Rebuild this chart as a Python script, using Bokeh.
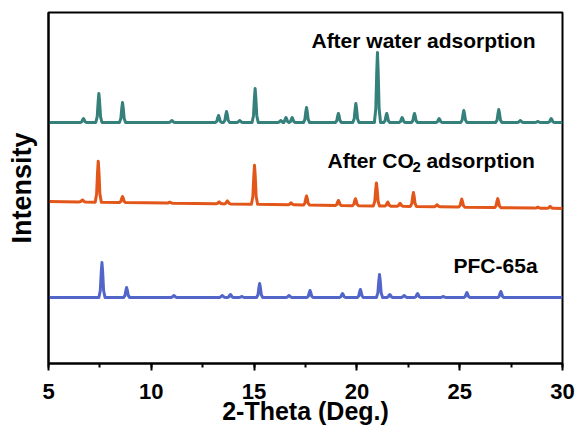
from bokeh.plotting import figure
from bokeh.models import Range1d, SingleIntervalTicker, FixedTicker, Label
from bokeh.embed import file_html
from bokeh.resources import INLINE

# ---- data (2-theta positions, peak heights, baselines) ----
x_start, x_end = 5, 30

water_pos = [6.7, 7.45, 8.6, 11.0, 13.27, 13.66, 14.3, 15.05, 16.3, 16.55, 16.85,
             17.55, 19.1, 19.95, 21.0, 21.45, 22.2, 22.8, 24.0, 25.2, 26.9, 27.95, 28.8, 29.45]
water_height = [4, 29, 20, 2, 7, 11, 2, 34, 2, 5, 5,
                15, 9, 19, 70, 9, 5, 9, 4, 12, 13, 2, 1, 4]
water_base = [241, 241]

co2_pos = [6.65, 7.42, 8.6, 10.9, 13.3, 13.7, 15.02, 16.8, 17.55, 19.1, 19.93,
           20.95, 21.5, 22.1, 22.75, 23.9, 25.1, 26.85, 28.8, 29.4]
co2_height = [2, 41, 6, 1, 2, 3, 39, 2, 9, 5, 7,
              23, 4, 3, 14, 2, 8, 9, 1, 2]
co2_base = [162, 155]

pfc_pos = [7.6, 8.8, 11.1, 13.45, 13.85, 14.4, 15.27, 16.7, 17.72, 19.3, 20.17,
           21.1, 21.6, 22.3, 22.95, 24.2, 25.35, 27.0]
pfc_height = [35, 10, 2, 2, 3, 1, 14, 2, 7, 4, 8,
              23, 3, 2, 4, 1, 5, 6]
pfc_base = [66, 66]

# peak outline used to draw each reflection
shape_dx = [-0.15, -0.08, -0.035, 0, 0.035, 0.08, 0.15]
shape_f = [0, 0.2, 0.72, 1, 0.72, 0.2, 0]


def profile(pos, hts, base):
    def b(x):
        return base[0] + (base[1] - base[0]) * (x - x_start) / (x_end - x_start)
    xs = [x_start]
    ys = [base[0]]
    for p, h in zip(pos, hts):
        for dx, f in zip(shape_dx, shape_f):
            x = p + dx
            xs.append(x)
            ys.append(b(x) + f * h)
    xs.append(x_end)
    ys.append(base[1])
    return xs, ys


FONT = "Liberation Sans"

p = figure(width=577, height=430, output_backend="svg", toolbar_location=None,
           x_range=Range1d(x_start, x_end), y_range=Range1d(0, 351),
           min_border_left=48, min_border_right=15, min_border_top=12, min_border_bottom=67)
p.xgrid.visible = False
p.ygrid.visible = False
p.outline_line_color = "black"
p.outline_line_width = 2
p.background_fill_color = "white"
p.border_fill_color = "white"

for (pos, hts, base, col) in [(water_pos, water_height, water_base, "#35807a"),
                              (co2_pos, co2_height, co2_base, "#e2561a"),
                              (pfc_pos, pfc_height, pfc_base, "#5266c9")]:
    xs, ys = profile(pos, hts, base)
    p.line(xs, ys, line_color=col, line_width=3, line_join="round")

xa = p.xaxis[0]
xa.ticker = SingleIntervalTicker(interval=5, num_minor_ticks=2)
xa.major_tick_out = 7
xa.major_tick_in = 0
xa.minor_tick_out = 4
xa.minor_tick_in = 0
xa.axis_line_width = 2
xa.major_tick_line_width = 2
xa.minor_tick_line_width = 2
xa.major_label_text_font = FONT
xa.major_label_text_font_style = "bold"
xa.major_label_text_font_size = "22px"
xa.major_label_text_color = "black"
xa.major_label_standoff = 13
xa.axis_label = "2-Theta (Deg.)"
xa.axis_label_text_font = FONT
xa.axis_label_text_font_style = "bold"
xa.axis_label_text_font_size = "25px"
xa.axis_label_text_color = "black"
xa.axis_label_standoff = -5

ya = p.yaxis[0]
ya.ticker = FixedTicker(ticks=[])
ya.axis_line_width = 2
ya.major_tick_line_color = None
ya.minor_tick_line_color = None
ya.axis_label = "Intensity"
ya.axis_label_text_font = FONT
ya.axis_label_text_font_style = "bold"
ya.axis_label_text_font_size = "27px"
ya.axis_label_text_color = "black"
ya.axis_label_standoff = 12


def add_text(tx, lx, ly, size="21px"):
    p.add_layout(Label(x=lx, y=ly, text=tx, text_font=FONT, text_font_style="bold",
                       text_font_size=size, text_baseline="middle", text_align="left",
                       text_color="black"))


add_text("After water adsorption", 17.79, 323)
add_text("After CO", 18.57, 203)
add_text("2", 22.70, 197, "15px")
add_text("adsorption", 23.38, 203)
add_text("PFC-65a", 24.70, 98)

open("out.html", "w").write(file_html(p, INLINE))
